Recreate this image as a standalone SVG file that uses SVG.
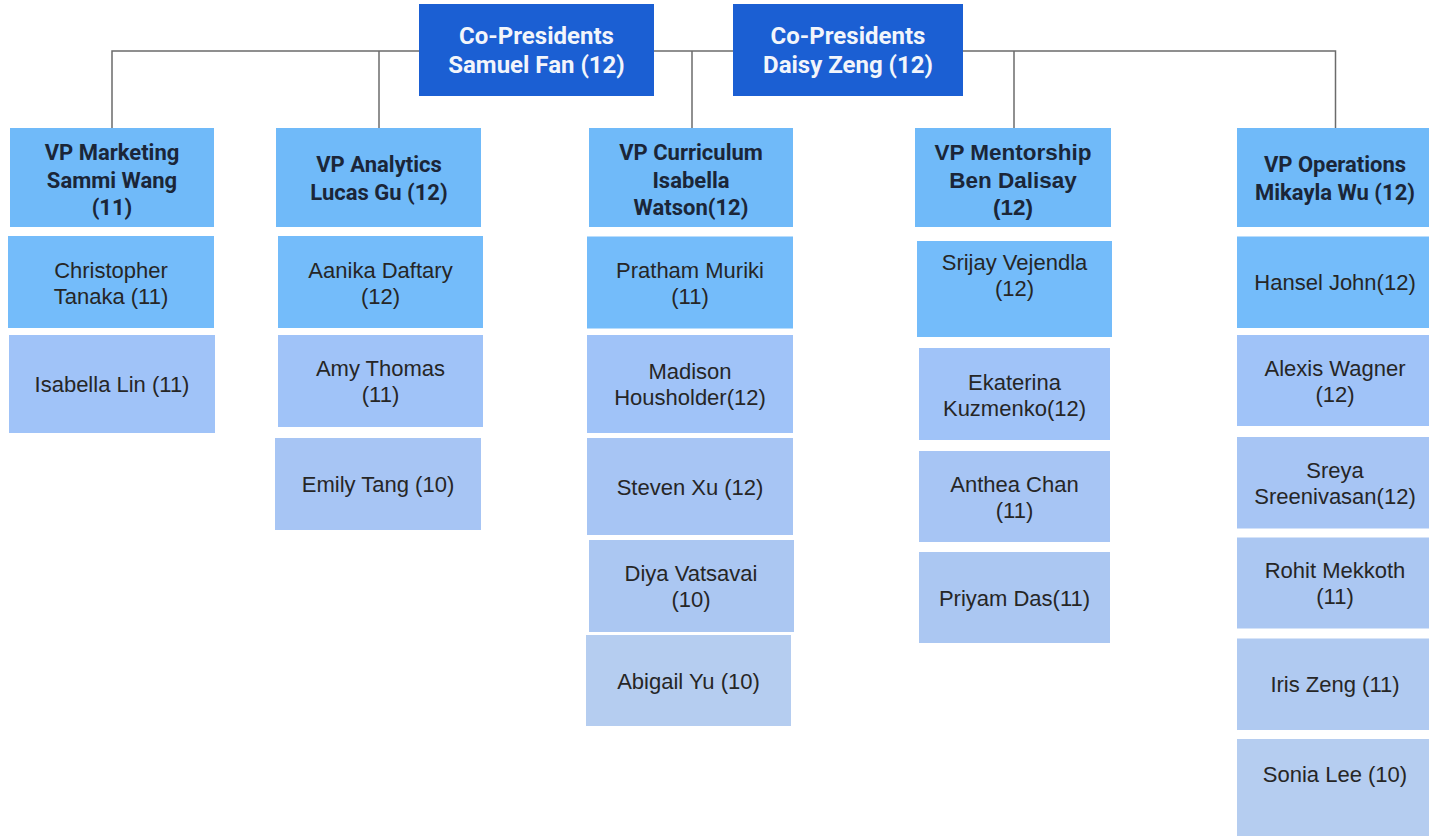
<svg xmlns="http://www.w3.org/2000/svg" width="1429" height="836" viewBox="0 0 1429 836">
<style>
.cp{fill:#1b5fd3}
.vp{fill:#70baf9}
.c1{fill:#74bcfa}
.c2{fill:#a0c3f8}
.c3{fill:#a7c5f4}
.c4{fill:#abc7f2}
.c5{fill:#b0caf1}
.c6{fill:#b5cdf0}
.cpt{font-family:Roboto,"Liberation Sans",sans-serif;font-weight:700;font-size:24px;fill:#f2f5fb;text-anchor:middle}
.vpt{font-family:Roboto,"Liberation Sans",sans-serif;font-weight:700;font-size:22px;fill:#1b2638;text-anchor:middle}
.vpa{font-family:"Liberation Sans",Arial,sans-serif;font-weight:700;font-size:22.5px;fill:#1b2638;text-anchor:middle}
.ct{font-family:"Liberation Sans",Arial,sans-serif;font-size:22px;fill:#262626;text-anchor:middle}
.conn{fill:none;stroke:#6b6b6b;stroke-width:1.5}
</style>
<rect width="1429" height="836" fill="#ffffff"/>
<g id="connectors">
<path class="conn" d="M112 128 V51 H419"/>
<path class="conn" d="M379 51 V128"/>
<path class="conn" d="M654 51 H733"/>
<path class="conn" d="M692 51 V128"/>
<path class="conn" d="M963 51 H1335.5 V128"/>
<path class="conn" d="M1014 51 V128"/>
</g>
<g id="samuel">
<rect class="cp" x="419" y="4" width="235" height="92"/>
<text class="cpt" x="536.5" y="43.5">Co-Presidents</text>
<text class="cpt" x="536.5" y="73">Samuel Fan (12)</text>
</g>
<g id="daisy">
<rect class="cp" x="733" y="4" width="230" height="92"/>
<text class="cpt" x="848" y="43.5">Co-Presidents</text>
<text class="cpt" x="848" y="73">Daisy Zeng (12)</text>
</g>
<g id="vp-marketing">
<rect class="vp" x="10" y="128" width="204" height="99"/>
<text class="vpt" x="112" y="160">VP Marketing</text>
<text class="vpt" x="112" y="188">Sammi Wang</text>
<text class="vpt" x="112" y="215">(11)</text>
</g>
<g id="vp-analytics">
<rect class="vp" x="276" y="128" width="205" height="99"/>
<text class="vpt" x="379" y="172">VP Analytics</text>
<text class="vpt" x="379" y="200">Lucas Gu (12)</text>
</g>
<g id="vp-curriculum">
<rect class="vp" x="589" y="128" width="204" height="99"/>
<text class="vpt" x="691" y="160">VP Curriculum</text>
<text class="vpt" x="691" y="188">Isabella</text>
<text class="vpt" x="691" y="215">Watson(12)</text>
</g>
<g id="vp-mentorship">
<rect class="vp" x="915" y="128" width="196" height="99"/>
<text class="vpa" x="1013" y="160">VP Mentorship</text>
<text class="vpa" x="1013" y="188">Ben Dalisay</text>
<text class="vpa" x="1013" y="215">(12)</text>
</g>
<g id="vp-operations">
<rect class="vp" x="1237" y="128" width="196" height="99"/>
<text class="vpt" x="1335" y="172">VP Operations</text>
<text class="vpt" x="1335" y="200">Mikayla Wu (12)</text>
</g>
<g id="christopher">
<rect class="c1" x="8" y="236" width="206" height="92"/>
<text class="ct" x="111" y="277.5">Christopher</text>
<text class="ct" x="111" y="303.5">Tanaka (11)</text>
</g>
<g id="isabella-lin">
<rect class="c2" x="9" y="335" width="206" height="98"/>
<text class="ct" x="112" y="392">Isabella Lin (11)</text>
</g>
<g id="aanika">
<rect class="c1" x="278" y="236" width="205" height="92"/>
<text class="ct" x="380.5" y="277.5">Aanika Daftary</text>
<text class="ct" x="380.5" y="303.5">(12)</text>
</g>
<g id="amy">
<rect class="c2" x="278" y="335" width="205" height="92"/>
<text class="ct" x="380.5" y="376">Amy Thomas</text>
<text class="ct" x="380.5" y="402">(11)</text>
</g>
<g id="emily">
<rect class="c3" x="275" y="438" width="206" height="92"/>
<text class="ct" x="378" y="492">Emily Tang (10)</text>
</g>
<g id="pratham">
<rect class="c1" x="587" y="236.5" width="206" height="92"/>
<text class="ct" x="690" y="277.5">Pratham Muriki</text>
<text class="ct" x="690" y="303.5">(11)</text>
</g>
<g id="madison">
<rect class="c2" x="587" y="335" width="206" height="98"/>
<text class="ct" x="690" y="379">Madison</text>
<text class="ct" x="690" y="405">Housholder(12)</text>
</g>
<g id="steven">
<rect class="c3" x="587" y="438" width="206" height="97"/>
<text class="ct" x="690" y="494.5">Steven Xu (12)</text>
</g>
<g id="diya">
<rect class="c4" x="589" y="540" width="205" height="92"/>
<text class="ct" x="691" y="581">Diya Vatsavai</text>
<text class="ct" x="691" y="607">(10)</text>
</g>
<g id="abigail">
<rect class="c6" x="586" y="635" width="205" height="91"/>
<text class="ct" x="688.5" y="688.5">Abigail Yu (10)</text>
</g>
<g id="srijay">
<rect class="c1" x="917" y="241" width="195" height="96"/>
<text class="ct" x="1014.5" y="270">Srijay Vejendla</text>
<text class="ct" x="1014.5" y="296">(12)</text>
</g>
<g id="ekaterina">
<rect class="c2" x="919" y="348" width="191" height="92"/>
<text class="ct" x="1014.5" y="389.5">Ekaterina</text>
<text class="ct" x="1014.5" y="415.5">Kuzmenko(12)</text>
</g>
<g id="anthea">
<rect class="c3" x="919" y="451" width="191" height="91"/>
<text class="ct" x="1014.5" y="491.5">Anthea Chan</text>
<text class="ct" x="1014.5" y="517.5">(11)</text>
</g>
<g id="priyam">
<rect class="c4" x="919" y="552" width="191" height="91"/>
<text class="ct" x="1014.5" y="605.5">Priyam Das(11)</text>
</g>
<g id="hansel">
<rect class="c1" x="1237" y="236.5" width="196" height="91.5"/>
<text class="ct" x="1335" y="290">Hansel John(12)</text>
</g>
<g id="alexis">
<rect class="c2" x="1237" y="335" width="196" height="91"/>
<text class="ct" x="1335" y="375.5">Alexis Wagner</text>
<text class="ct" x="1335" y="401.5">(12)</text>
</g>
<g id="sreya">
<rect class="c3" x="1237" y="437" width="196" height="91.5"/>
<text class="ct" x="1335" y="477.5">Sreya</text>
<text class="ct" x="1335" y="503.5">Sreenivasan(12)</text>
</g>
<g id="rohit">
<rect class="c4" x="1237" y="537.5" width="196" height="91"/>
<text class="ct" x="1335" y="578">Rohit Mekkoth</text>
<text class="ct" x="1335" y="604">(11)</text>
</g>
<g id="iris">
<rect class="c5" x="1237" y="638.5" width="196" height="91.5"/>
<text class="ct" x="1335" y="692">Iris Zeng (11)</text>
</g>
<g id="sonia">
<rect class="c6" x="1237" y="739" width="196" height="100"/>
<text class="ct" x="1335" y="782">Sonia Lee (10)</text>
</g>
</svg>
